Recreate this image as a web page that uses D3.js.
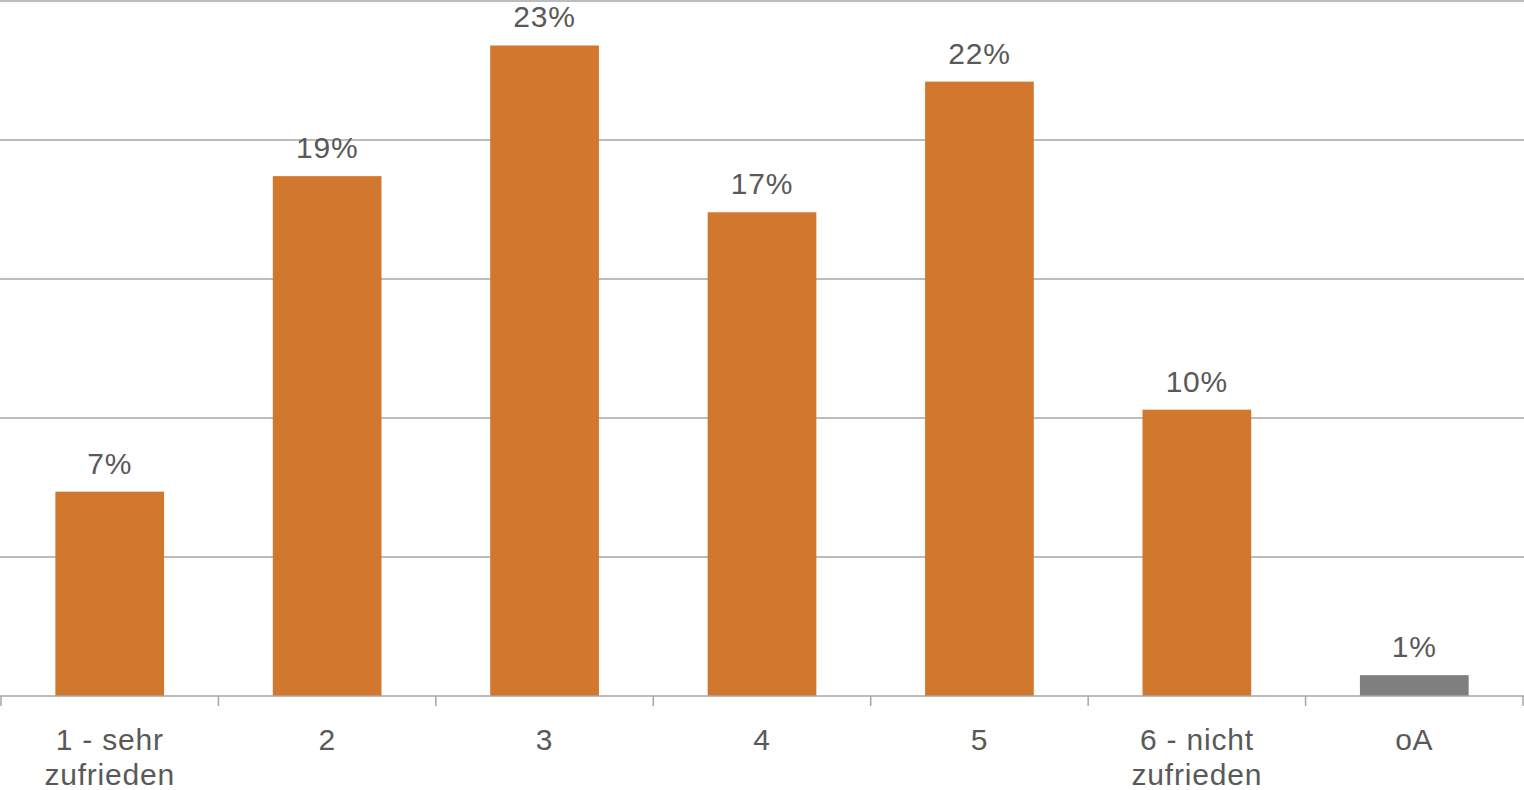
<!DOCTYPE html>
<html>
<head>
<meta charset="utf-8">
<script src="https://cdn.jsdelivr.net/npm/d3@7"></script>
<style>
  html, body { margin: 0; padding: 0; background: #fff; }
  svg { display: block; }
</style>
</head>
<body>
<svg id="chart" width="1524" height="790"></svg>
<script>
const categories = ["1 - sehr|zufrieden", "2", "3", "4", "5", "6 - nicht|zufrieden", "oA"];
const values = [7.35, 18.7, 23.4, 17.4, 22.1, 10.3, 0.75];
const barColors = ["#D2772E", "#D2772E", "#D2772E", "#D2772E", "#D2772E", "#D2772E", "#7F7F7F"];
const yTicks = [0, 5, 10, 15, 20, 25];

(function () {
const svg = d3.select("#chart");
const mLeft = 1, mRight = 1523, mTop = 1, mBottom = 696;

const x = d3.scaleBand().domain(categories).range([mLeft, mRight]).paddingInner(0.5).paddingOuter(0.25);
const y = d3.scaleLinear().domain([0, 25]).range([mBottom, mTop]);

// gridlines
svg.append("g").selectAll("line").data(yTicks.filter(d => d > 0)).join("line")
  .attr("x1", 0).attr("x2", 1524)
  .attr("y1", d => y(d)).attr("y2", d => y(d))
  .attr("stroke", "#a6a6a6").attr("stroke-width", 1.5);

// bars
svg.append("g").selectAll("rect").data(values).join("rect")
  .attr("x", (d, i) => x(categories[i]))
  .attr("width", x.bandwidth())
  .attr("y", d => y(d))
  .attr("height", d => y(0) - y(d))
  .attr("fill", (d, i) => barColors[i]);

// x axis
const axis = svg.append("g").attr("transform", `translate(0,${mBottom})`);
axis.append("line").attr("x1", 0).attr("x2", 1524).attr("stroke", "#a6a6a6").attr("stroke-width", 1.5);
const step = x.step();
const boundaries = d3.range(categories.length + 1).map(i => mLeft + i * step);
axis.selectAll(".tk").data(boundaries).join("line").attr("class", "tk")
  .attr("x1", d => d).attr("x2", d => d).attr("y1", 0).attr("y2", 10)
  .attr("stroke", "#a6a6a6").attr("stroke-width", 1.5);

const font = "'Liberation Sans', Arial, sans-serif";
axis.selectAll(".lbl").data(categories).join("text").attr("class", "lbl")
  .attr("text-anchor", "middle")
  .attr("font-family", font).attr("font-size", 30).attr("letter-spacing", 0.8).attr("fill", "#595959")
  .each(function(d) {
    const t = d3.select(this);
    d.split("|").forEach((line, j) => {
      t.append("tspan").attr("x", x(d) + x.bandwidth() / 2).attr("y", 54 + j * 35).text(line);
    });
  });

// data labels
svg.append("g").selectAll("text").data(values).join("text")
  .attr("x", (d, i) => x(categories[i]) + x.bandwidth() / 2)
  .attr("y", d => y(d) - 18)
  .attr("text-anchor", "middle")
  .attr("font-family", font).attr("font-size", 30).attr("letter-spacing", 0.8).attr("fill", "#595959")
  .text(d => Math.round(d) + "%");
})();
</script>
</body>
</html>
